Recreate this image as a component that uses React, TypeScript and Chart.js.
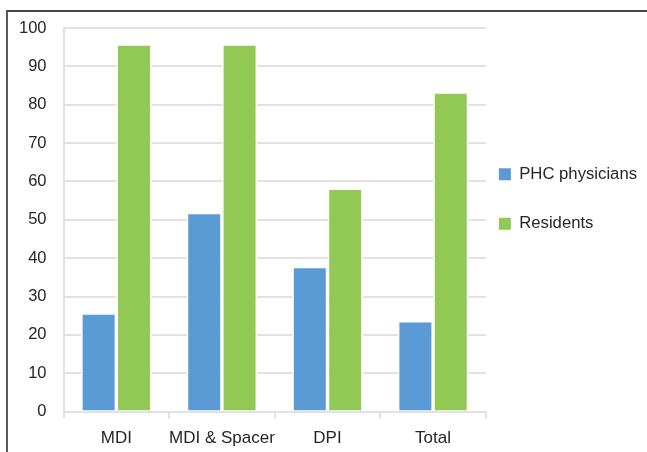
import React, { useEffect, useRef } from 'react';
import { Chart, registerables } from 'chart.js';

Chart.register(...registerables);

const categories = ['MDI', 'MDI & Spacer', 'DPI', 'Total'];
const seriesNames = ['PHC physicians', 'Residents'];
const phcPhysicians = [25.7, 51.9, 37.8, 23.7];
const residents = [95.8, 95.8, 58.2, 83.3];
const yMin = 0;
const yMax = 100;
const yStep = 10;

const BLUE = '#5B9BD5';
const GREEN = '#92C955';
const GRID = '#E2E2E2';
const TEXT = '#262626';
const FONT = "'Liberation Sans', Arial, sans-serif";

const W = 647;
const H = 462;

export default function App() {
  const canvasRef = useRef<HTMLCanvasElement | null>(null);

  useEffect(() => {
    if (!canvasRef.current) return;
    const chart = new Chart(canvasRef.current, {
      type: 'bar',
      data: {
        labels: categories,
        datasets: [
          {
            label: seriesNames[0],
            data: phcPhysicians,
            backgroundColor: BLUE,
            borderColor: '#FFFFFF',
            borderWidth: 1.7,
            borderSkipped: 'start',
            barPercentage: 1.0,
            categoryPercentage: 0.67,
          },
          {
            label: seriesNames[1],
            data: residents,
            backgroundColor: GREEN,
            borderColor: '#FFFFFF',
            borderWidth: 1.7,
            borderSkipped: 'start',
            barPercentage: 1.0,
            categoryPercentage: 0.67,
          },
        ],
      },
      options: {
        responsive: false,
        maintainAspectRatio: false,
        animation: false,
        layout: { padding: { top: 28, left: 2, right: 0, bottom: 3 } },
        scales: {
          x: {
            grid: {
              display: true,
              drawOnChartArea: false,
              drawTicks: true,
              tickLength: 7,
              color: GRID,
              lineWidth: 2,
              offset: true,
            },
            border: { display: true, color: GRID, width: 2 },
            ticks: {
              color: TEXT,
              font: { family: FONT, size: 17 },
              padding: 10,
              autoSkip: false,
              maxRotation: 0,
              minRotation: 0,
            },
          },
          y: {
            min: yMin,
            max: yMax,
            grid: { color: GRID, lineWidth: 2, drawTicks: false },
            border: { display: true, color: GRID, width: 2 },
            ticks: {
              stepSize: yStep,
              color: TEXT,
              font: { family: FONT, size: 16.5 },
              padding: 17,
            },
          },
        },
        plugins: {
          tooltip: { enabled: false },
          legend: {
            position: 'right',
            align: 'start',
            title: { display: true, text: '', font: { size: 10 }, padding: { top: 113, bottom: 0 } },
            labels: {
              boxWidth: 12,
              boxHeight: 12,
              padding: 13,
              color: TEXT,
              font: { family: FONT, size: 16.7, lineHeight: 0.4 },
              generateLabels: (c: any) => {
                const items = Chart.defaults.plugins.legend.labels.generateLabels(c).map((it: any) => ({
                  ...it,
                  lineWidth: 0,
                  strokeStyle: 'rgba(0,0,0,0)',
                }));
                const spacer = {
                  text: [''],
                  fillStyle: 'rgba(0,0,0,0)',
                  strokeStyle: 'rgba(0,0,0,0)',
                  lineWidth: 0,
                  hidden: false,
                  datasetIndex: -1,
                };
                return [items[0], spacer, items[1]];
              },
            },
          },
        },
      },
    });
    return () => chart.destroy();
  }, []);

  return (
    <div style={{ position: 'absolute', left: 0, top: 0, width: 647, height: 452, background: '#fff', overflow: 'hidden' }}>
      <div
        style={{
          position: 'absolute',
          left: 6,
          top: 10,
          width: 660,
          height: 460,
          borderTop: '2px solid #474747',
          borderLeft: '2px solid #5a5a5a',
          boxSizing: 'border-box',
        }}
      />
      <canvas ref={canvasRef} width={W} height={H} style={{ position: 'absolute', left: 0, top: 0, width: W, height: H }} />
    </div>
  );
}
